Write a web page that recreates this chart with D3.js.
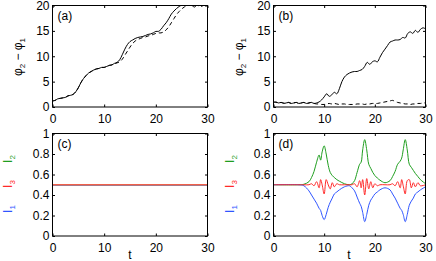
<!DOCTYPE html>
<html><head><meta charset="utf-8">
<script src="https://cdn.jsdelivr.net/npm/d3@7"></script>
<style>
body{margin:0;background:#fff;}
svg{display:block;font-family:"Liberation Sans",Arial,sans-serif;}
</style></head>
<body>
<svg id="c" width="436" height="261"></svg>
<script>
// ---- data ----
const tTicks = [0, 10, 20, 30];
const phiTicks = [0, 5, 10, 15, 20];
const iTicks = [0, 0.2, 0.4, 0.6, 0.8, 1];
const tGrid = [0,0.5,1,1.5,2,2.5,3,3.5,4,4.5,5,5.5,6,6.5,7,7.5,8,8.5,9,9.5,10,10.5,11,11.5,12,12.5,13,13.5,14,14.5,15,15.5,16,16.5,17,17.5,18,18.5,19,19.5,20,20.5,21,21.5,22,22.5,23,23.5,24,24.5,25,25.5,26,26.5,27,27.5,28,28.5,29,29.5,30];
const aSolid = [1.2,1.3,1.6,1.7,1.8,1.9,2.2,2.3,2.5,3.0,3.8,4.8,5.6,6.2,6.7,7.0,7.3,7.5,7.6,7.8,7.8,8.0,8.2,8.3,8.6,8.8,9.3,10.3,11.4,12.3,12.9,13.2,13.5,13.7,13.8,13.9,14.1,14.3,14.4,14.6,14.9,14.9,15.3,16.0,16.6,17.4,18.3,18.9,19.4,19.8,20.1,20.4,20.5,20.3,20.0,19.7,20.2,20.6,20.5,20.8,21.0];
const aDashed = [1.2,1.3,1.6,1.7,1.8,1.9,2.2,2.3,2.5,3.0,3.8,4.8,5.6,6.2,6.7,7.0,7.3,7.5,7.6,7.8,7.8,8.0,8.2,8.3,8.5,8.7,8.9,9.4,10.2,11.0,11.8,12.5,13.0,13.3,13.5,13.7,13.8,14.0,14.1,14.3,14.5,14.6,14.6,14.8,15.2,15.8,16.6,17.4,18.2,18.8,19.3,19.7,20.0,20.3,20.4,20.3,20.1,19.8,19.9,20.3,20.6];
const bSolid = [0.9,1.0,0.8,0.9,0.7,0.8,0.9,0.7,0.8,0.9,0.7,0.8,0.9,0.7,0.8,0.9,0.7,0.8,1.0,1.4,2.0,2.6,2.1,2.4,2.9,2.6,3.6,5.0,5.9,6.4,6.7,6.9,7.0,7.0,7.2,7.4,8.0,8.8,8.4,8.9,9.1,8.9,9.8,10.7,11.4,12.1,12.8,13.0,13.2,13.2,13.3,13.7,13.6,14.5,14.8,14.5,15.1,14.7,15.3,15.6,15.4];
const bDashed = [1.0,0.9,0.8,0.9,0.8,0.8,0.9,0.7,0.8,0.9,0.7,0.8,0.9,0.7,0.8,0.9,0.7,0.6,0.6,0.5,0.5,0.6,0.7,0.6,0.7,0.6,0.5,0.6,0.6,0.5,0.5,0.5,0.5,0.6,0.6,0.6,0.5,0.6,0.6,0.7,0.7,0.7,0.8,0.9,1.0,1.1,1.2,1.3,1.1,0.9,0.8,0.7,0.6,0.6,0.5,0.6,0.6,0.7,0.7,0.8,0.8];
const cT = [0, 30];
const cI1 = [0.5, 0.5];
const cI2 = [0.5, 0.5];
const cI3 = [0.5, 0.5];
const dT  = [0,5,6,7,7.5,8,8.5,9,9.3,9.6,10,10.4,10.8,11.2,11.6,12,12.5,13,14,15,15.5,16,16.5,17,17.3,17.6,18,18.4,18.8,19.2,19.6,20,20.5,21,22,23,23.5,24,24.5,25,25.3,25.6,26,26.4,26.8,27.2,27.6,28,28.5,29,30];
const dI2 = [.5,.5,.505,.53,.57,.63,.72,.79,.74,.82,.88,.80,.69,.62,.59,.57,.55,.535,.51,.5,.51,.54,.62,.70,.72,.84,.94,.84,.70,.66,.62,.59,.565,.545,.52,.54,.58,.63,.70,.73,.76,.84,.94,.84,.70,.67,.64,.61,.58,.55,.51];
const dI1 = [.5,.5,.49,.44,.40,.36,.32,.27,.25,.20,.16,.21,.28,.33,.37,.41,.43,.45,.48,.49,.47,.44,.38,.32,.29,.23,.14,.21,.30,.35,.38,.41,.43,.45,.47,.45,.41,.37,.32,.27,.25,.21,.14,.21,.30,.34,.37,.41,.43,.45,.48];
const dI3 = [.5,.5,.5,.5,.51,.49,.53,.47,.55,.50,.41,.55,.50,.46,.52,.48,.51,.5,.5,.5,.5,.51,.48,.54,.47,.55,.40,.56,.46,.53,.47,.51,.49,.5,.5,.5,.51,.49,.53,.47,.55,.49,.41,.54,.55,.47,.52,.48,.52,.49,.5];

const svg = d3.select("#c");
const FS = 12;
const green = "#1f9e1f", red = "#ff2a2a", blue = "#2f55ff";

function panel(opt) {
  const x = d3.scaleLinear().domain([0, 30]).range([opt.x0, opt.x1]);
  const y = d3.scaleLinear().domain(opt.yDomain).range([opt.y1, opt.y0]);
  const g = svg.append("g");
  const cid = "clip" + opt.name;
  svg.append("clipPath").attr("id", cid).append("rect")
    .attr("x", opt.x0).attr("y", opt.y0).attr("width", opt.x1 - opt.x0).attr("height", opt.y1 - opt.y0);
  const lines = g.append("g").attr("clip-path", `url(#${cid})`);
  opt.series.forEach(s => {
    const line = d3.line().x((d, i) => x(s.t[i])).y(d => y(d)).curve(d3.curveCatmullRom.alpha(0.5));
    lines.append("path").datum(s.v).attr("d", line).attr("fill", "none")
      .attr("stroke", s.color).attr("stroke-width", s.w || 1)
      .attr("stroke-dasharray", s.dash || null);
  });
  // axes
  const ax = (axis, tr) => {
    const a = g.append("g").attr("transform", tr).call(axis);
    a.select(".domain").remove();
    a.selectAll("line").attr("stroke", "#000");
    a.selectAll("text").attr("font-size", FS).attr("font-family", "Liberation Sans, Arial, sans-serif").attr("fill", "#000");
    return a;
  };
  ax(d3.axisBottom(x).tickValues(tTicks).tickSize(-2.5).tickPadding(7).tickFormat(d3.format("d")), `translate(0,${opt.y1})`);
  ax(d3.axisTop(x).tickValues(tTicks).tickSize(-2.5).tickFormat(""), `translate(0,${opt.y0})`);
  ax(d3.axisLeft(y).tickValues(opt.yTicks).tickSize(-2.5).tickPadding(3).tickFormat(d => String(d)), `translate(${opt.x0},0)`);
  ax(d3.axisRight(y).tickValues(opt.yTicks).tickSize(-2.5).tickFormat(""), `translate(${opt.x1},0)`);
  // frame
  g.append("rect").attr("x", opt.x0).attr("y", opt.y0).attr("width", opt.x1 - opt.x0).attr("height", opt.y1 - opt.y0)
    .attr("fill", "none").attr("stroke", "#000").attr("stroke-width", 1);
  g.append("text").attr("x", opt.x0 + 5).attr("y", opt.y0 + 14).attr("font-size", FS).text(opt.label);
  return {x, y, g};
}

const L = {x0: 52.5, x1: 207.5}, R = {x0: 273.5, x1: 425.5};
const T = {y0: 5.5, y1: 107}, B = {y0: 133.5, y1: 236};

panel({name: "a", ...L, ...T, yDomain: [0, 20], yTicks: phiTicks, label: "(a)",
  series: [{t: tGrid, v: aSolid, color: "#000"}, {t: tGrid, v: aDashed, color: "#000", dash: "4,3"}]});
panel({name: "b", ...R, ...T, yDomain: [0, 20], yTicks: phiTicks, label: "(b)",
  series: [{t: tGrid, v: bSolid, color: "#000"}, {t: tGrid, v: bDashed, color: "#000", dash: "4,3"}]});
panel({name: "c", ...L, ...B, yDomain: [0, 1], yTicks: iTicks, label: "(c)",
  series: [{t: cT, v: cI2, color: green, w: 1.4}, {t: cT, v: cI1, color: blue, w: 1.4}, {t: cT, v: cI3, color: "#f0604a", w: 1.6}]});
panel({name: "d", ...R, ...B, yDomain: [0, 1], yTicks: iTicks, label: "(d)",
  series: [{t: dT, v: dI2, color: green}, {t: dT, v: dI1, color: blue}, {t: dT, v: dI3, color: red}]});

// y labels top row
function phiLabel(xb, yc) {
  const t = svg.append("text").attr("transform", `translate(${xb},${yc}) rotate(-90)`)
    .attr("text-anchor", "middle").attr("font-size", FS);
  t.append("tspan").text("φ");
  t.append("tspan").attr("font-size", 8).attr("dy", 3).text("2");
  t.append("tspan").attr("dy", -3).text(" − φ");
  t.append("tspan").attr("font-size", 8).attr("dy", 3).text("1");
}
phiLabel(22, 57);
phiLabel(243, 57);

function iLabel(xb, yc, sub, color) {
  const t = svg.append("text").attr("transform", `translate(${xb},${yc}) rotate(-90)`)
    .attr("text-anchor", "middle").attr("font-size", FS).attr("fill", color);
  t.append("tspan").text("I");
  t.append("tspan").attr("font-size", 8).attr("dy", 3).text(sub);
}
[[12, 159, "2", green], [12, 184, "3", red], [12, 209, "1", blue]].forEach(d => iLabel(...d));
[[234, 159, "2", green], [234, 184, "3", red], [234, 209, "1", blue]].forEach(d => iLabel(...d));

svg.append("text").attr("x", 130).attr("y", 259).attr("text-anchor", "middle").attr("font-size", FS).text("t");
svg.append("text").attr("x", 349).attr("y", 259).attr("text-anchor", "middle").attr("font-size", FS).text("t");
</script>
</body></html>
